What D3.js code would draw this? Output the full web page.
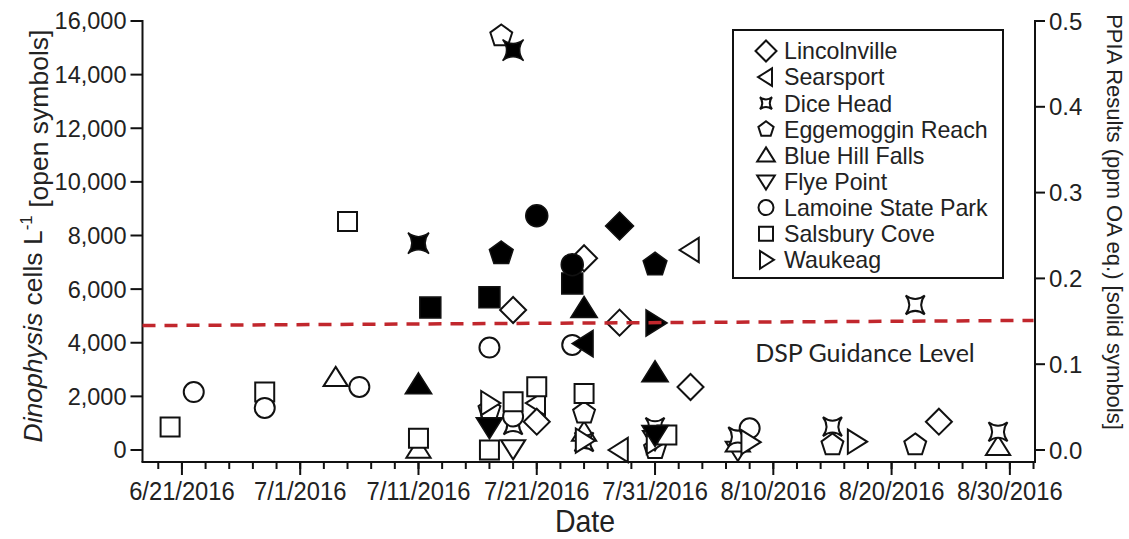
<!DOCTYPE html>
<html>
<head>
<meta charset="utf-8">
<script src="https://cdn.jsdelivr.net/npm/d3@7"></script>
<style>
  body { margin: 0; background: #fff; }
  svg text { font-family: "Liberation Sans", Arial, sans-serif; fill: #222; }
</style>
</head>
<body>
<svg id="chart" width="1129" height="539"></svg>
<script>
// sites, in legend order, with the symbol each one uses
var sites = ["Lincolnville", "Searsport", "Dice Head", "Eggemoggin Reach", "Blue Hill Falls",
  "Flye Point", "Lamoine State Park", "Salsbury Cove", "Waukeag"];
var shapes = ["diamond", "triLeft", "star4", "pentagon", "triUp", "triDown", "circle", "square", "triRight"];

// open symbols: Dinophysis cells per litre  [site, date, cells]
var cellData = [
  ["Salsbury Cove", "6/20/2016", 860],
  ["Lamoine State Park", "6/22/2016", 2160],
  ["Salsbury Cove", "6/28/2016", 2160],
  ["Lamoine State Park", "6/28/2016", 1570],
  ["Blue Hill Falls", "7/4/2016", 2690],
  ["Salsbury Cove", "7/5/2016", 8520],
  ["Lamoine State Park", "7/6/2016", 2350],
  ["Blue Hill Falls", "7/11/2016", 20],
  ["Salsbury Cove", "7/11/2016", 440],
  ["Eggemoggin Reach", "7/17/2016", 1500],
  ["Waukeag", "7/17/2016", 1750],
  ["Lamoine State Park", "7/17/2016", 3820],
  ["Salsbury Cove", "7/17/2016", 0],
  ["Eggemoggin Reach", "7/18/2016", 15440],
  ["Lincolnville", "7/19/2016", 5220],
  ["Dice Head", "7/19/2016", 930],
  ["Lamoine State Park", "7/19/2016", 1250],
  ["Salsbury Cove", "7/19/2016", 1800],
  ["Flye Point", "7/19/2016", 60],
  ["Searsport", "7/21/2016", 1750],
  ["Lincolnville", "7/21/2016", 1055],
  ["Salsbury Cove", "7/21/2016", 2360],
  ["Lamoine State Park", "7/24/2016", 3920],
  ["Lincolnville", "7/25/2016", 7150],
  ["Blue Hill Falls", "7/25/2016", 650],
  ["Dice Head", "7/25/2016", 300],
  ["Waukeag", "7/25/2016", 350],
  ["Eggemoggin Reach", "7/25/2016", 1370],
  ["Salsbury Cove", "7/25/2016", 2110],
  ["Lincolnville", "7/28/2016", 4750],
  ["Searsport", "7/28/2016", 0],
  ["Eggemoggin Reach", "7/31/2016", 50],
  ["Flye Point", "7/31/2016", 400],
  ["Waukeag", "7/31/2016", 300],
  ["Dice Head", "7/31/2016", 850],
  ["Salsbury Cove", "8/1/2016", 560],
  ["Searsport", "8/3/2016", 7460],
  ["Lincolnville", "8/3/2016", 2350],
  ["Flye Point", "8/7/2016", 0],
  ["Blue Hill Falls", "8/7/2016", 250],
  ["Dice Head", "8/7/2016", 500],
  ["Lamoine State Park", "8/8/2016", 810],
  ["Waukeag", "8/8/2016", 290],
  ["Eggemoggin Reach", "8/15/2016", 190],
  ["Dice Head", "8/15/2016", 870],
  ["Waukeag", "8/17/2016", 310],
  ["Eggemoggin Reach", "8/22/2016", 190],
  ["Dice Head", "8/22/2016", 5410],
  ["Lincolnville", "8/24/2016", 1055],
  ["Blue Hill Falls", "8/29/2016", 120],
  ["Dice Head", "8/29/2016", 680]
];

// solid symbols: PPIA toxin results (ppm OA eq.)  [site, date, ppm]
var ppiaData = [
  ["Dice Head", "7/11/2016", 0.241],
  ["Blue Hill Falls", "7/11/2016", 0.076],
  ["Salsbury Cove", "7/12/2016", 0.166],
  ["Salsbury Cove", "7/17/2016", 0.178],
  ["Flye Point", "7/17/2016", 0.027],
  ["Eggemoggin Reach", "7/18/2016", 0.229],
  ["Dice Head", "7/19/2016", 0.466],
  ["Lamoine State Park", "7/21/2016", 0.273],
  ["Salsbury Cove", "7/24/2016", 0.194],
  ["Lamoine State Park", "7/24/2016", 0.216],
  ["Blue Hill Falls", "7/25/2016", 0.165],
  ["Searsport", "7/25/2016", 0.124],
  ["Lincolnville", "7/28/2016", 0.261],
  ["Eggemoggin Reach", "7/31/2016", 0.216],
  ["Waukeag", "7/31/2016", 0.148],
  ["Blue Hill Falls", "7/31/2016", 0.090],
  ["Flye Point", "7/31/2016", 0.018]
];

// DSP guidance level line (drawn slightly tilted in the original)
var guideDates = ["6/17/2016", "9/1/2016"];
var guideValues = [0.145, 0.151];

var yLeftTicks = [0, 2000, 4000, 6000, 8000, 10000, 12000, 14000, 16000];
var yRightTicks = [0, 0.1, 0.2, 0.3, 0.4, 0.5];
var xTickLabels = ["6/21/2016", "7/1/2016", "7/11/2016", "7/21/2016", "7/31/2016", "8/10/2016", "8/20/2016", "8/30/2016"];

// ----------------------------------------------------------------------------

var parse = d3.timeParse("%m/%d/%Y");
var svg = d3.select("#chart");

var plotLeft = 142.5, plotRight = 1035, plotTop = 21, plotBottom = 462;

var x = d3.scaleTime()
  .domain([new Date(2016, 5, 17, 16), new Date(2016, 8, 1, 3)])
  .range([plotLeft, plotRight]);

var yCells = d3.scaleLinear().domain([-448, 16000]).range([plotBottom, plotTop]);
var yPpia = d3.scaleLinear().domain([-0.014, 0.5]).range([plotBottom, plotTop]);

// symbol outlines, r is half the width
function shapePath(name, r) {
  var p = d3.path();
  if (name == "diamond") {
    p.moveTo(0, -r); p.lineTo(r, 0); p.lineTo(0, r); p.lineTo(-r, 0); p.closePath();
  } else if (name == "square") {
    p.rect(-r, -r, 2 * r, 2 * r);
  } else if (name == "circle") {
    p.moveTo(r, 0);
    p.arc(0, 0, r, 0, 2 * Math.PI);
  } else if (name == "triUp") {
    p.moveTo(0, -r); p.lineTo(r * 1.1, r * 0.75); p.lineTo(-r * 1.1, r * 0.75); p.closePath();
  } else if (name == "triDown") {
    p.moveTo(0, r); p.lineTo(r * 1.1, -r * 0.75); p.lineTo(-r * 1.1, -r * 0.75); p.closePath();
  } else if (name == "triLeft") {
    p.moveTo(-r, 0); p.lineTo(r * 0.75, -r * 1.1); p.lineTo(r * 0.75, r * 1.1); p.closePath();
  } else if (name == "triRight") {
    p.moveTo(r, 0); p.lineTo(-r * 0.75, -r * 1.1); p.lineTo(-r * 0.75, r * 1.1); p.closePath();
  } else if (name == "pentagon") {
    for (var i = 0; i < 5; i++) {
      var a = -Math.PI / 2 + i * 2 * Math.PI / 5;
      if (i == 0) p.moveTo(r * Math.cos(a), r * Math.sin(a));
      else p.lineTo(r * Math.cos(a), r * Math.sin(a));
    }
    p.closePath();
  } else if (name == "star4") {
    var k = r * 0.25;
    p.moveTo(-r, -r);
    p.quadraticCurveTo(0, -k, r, -r);
    p.quadraticCurveTo(k, 0, r, r);
    p.quadraticCurveTo(0, k, -r, r);
    p.quadraticCurveTo(-k, 0, -r, -r);
    p.closePath();
  }
  return p.toString();
}

var plotSize = {diamond: 13, square: 9.5, circle: 10, triUp: 11, triDown: 11, triLeft: 11,
  triRight: 11, pentagon: 11.5, star4: 9.5};

function shapeOf(site) { return shapes[sites.indexOf(site)]; }

// axes ----------------------------------------------------------------------

var ink = "#111";

// left axis
var gl = svg.append("g");
gl.append("line").attr("x1", plotLeft).attr("x2", plotLeft).attr("y1", plotTop - 1).attr("y2", plotBottom)
  .attr("stroke", ink).attr("stroke-width", 2);
gl.selectAll("line.t").data(yLeftTicks).enter().append("line")
  .attr("x1", plotLeft - 12).attr("x2", plotLeft)
  .attr("y1", d => yCells(d)).attr("y2", d => yCells(d))
  .attr("stroke", ink).attr("stroke-width", 2);
gl.selectAll("text").data(yLeftTicks).enter().append("text")
  .attr("x", plotLeft - 16).attr("y", d => yCells(d)).attr("dy", "0.36em")
  .attr("text-anchor", "end").style("font-size", "23.5px")
  .text(d => d3.format(",")(d));

// right axis
var gr = svg.append("g");
gr.append("line").attr("x1", plotRight).attr("x2", plotRight).attr("y1", plotTop - 1).attr("y2", plotBottom)
  .attr("stroke", ink).attr("stroke-width", 2);
gr.selectAll("line.t").data(yRightTicks).enter().append("line")
  .attr("x1", plotRight).attr("x2", plotRight + 10)
  .attr("y1", d => yPpia(d)).attr("y2", d => yPpia(d))
  .attr("stroke", ink).attr("stroke-width", 2);
gr.selectAll("text").data(yRightTicks).enter().append("text")
  .attr("x", plotRight + 14).attr("y", d => yPpia(d)).attr("dy", "0.36em")
  .style("font-size", "24px")
  .text(d => d3.format(".1f")(d));

// bottom axis with minor ticks every two days
var gb = svg.append("g");
gb.append("line").attr("x1", plotLeft - 1).attr("x2", plotRight + 1).attr("y1", plotBottom).attr("y2", plotBottom)
  .attr("stroke", ink).attr("stroke-width", 2);
var minor = d3.timeDay.range(parse("6/19/2016"), parse("9/2/2016"), 2);
gb.selectAll("line.m").data(minor).enter().append("line")
  .attr("x1", d => x(d)).attr("x2", d => x(d))
  .attr("y1", plotBottom).attr("y2", plotBottom + 7)
  .attr("stroke", ink).attr("stroke-width", 2);
gb.selectAll("line.M").data(xTickLabels).enter().append("line")
  .attr("x1", d => x(parse(d))).attr("x2", d => x(parse(d)))
  .attr("y1", plotBottom).attr("y2", plotBottom + 13)
  .attr("stroke", ink).attr("stroke-width", 2);
gb.selectAll("text").data(xTickLabels).enter().append("text")
  .attr("transform", d => `translate(${x(parse(d))},${plotBottom + 38}) scale(0.95,1.05)`)
  .attr("text-anchor", "middle")
  .style("font-size", "25px")
  .text(d => d);

svg.append("text")
  .attr("transform", "translate(585,532) scale(0.95,1.05)")
  .attr("text-anchor", "middle")
  .style("font-size", "30px")
  .text("Date");

// axis titles
var lt = svg.append("text")
  .attr("transform", "translate(42,236) rotate(-90)")
  .attr("text-anchor", "middle")
  .style("font-size", "26.5px");
lt.append("tspan").style("font-style", "italic").text("Dinophysis");
lt.append("tspan").text(" cells L");
lt.append("tspan").attr("dy", "-0.6em").style("font-size", "17px").text("-1");
lt.append("tspan").attr("dy", "0.6em").text(" [open symbols]");

svg.append("text")
  .attr("transform", "translate(1107,222) rotate(90)")
  .attr("text-anchor", "middle")
  .style("font-size", "22px")
  .text("PPIA Results (ppm OA eq.) [solid symbols]");

// points --------------------------------------------------------------------

var gp = svg.append("g");
gp.selectAll("path.open").data(cellData).enter().append("path")
  .attr("d", d => shapePath(shapeOf(d[0]), plotSize[shapeOf(d[0])]))
  .attr("transform", d => `translate(${x(parse(d[1]))},${yCells(d[2])})`)
  .attr("fill", "#fff").attr("stroke", ink).attr("stroke-width", 2);

gp.selectAll("path.solid").data(ppiaData).enter().append("path")
  .attr("d", d => shapePath(shapeOf(d[0]), plotSize[shapeOf(d[0])] + 1))
  .attr("transform", d => `translate(${x(parse(d[1]))},${yPpia(d[2])})`)
  .attr("fill", "#000").attr("stroke", ink).attr("stroke-width", 1.5);

// DSP guidance line
svg.append("path")
  .datum(guideDates.map((d, i) => [parse(d), guideValues[i]]))
  .attr("d", d3.line().x(d => Math.max(plotLeft, Math.min(plotRight, x(d[0])))).y(d => yPpia(d[1])))
  .attr("fill", "none").attr("stroke", "#c1272d").attr("stroke-width", 3.5)
  .attr("stroke-dasharray", "13,9");

svg.append("text")
  .attr("x", 865).attr("y", 362)
  .attr("text-anchor", "middle")
  .style("font-family", "Lato, 'Open Sans', sans-serif")
  .style("font-size", "25px")
  .text("DSP Guidance Level");

// legend --------------------------------------------------------------------

var leg = svg.append("g");
leg.append("rect").attr("x", 733).attr("y", 30).attr("width", 270).attr("height", 248)
  .attr("fill", "#fff").attr("stroke", ink).attr("stroke-width", 2);

var legSize = {diamond: 10.5, square: 7, circle: 7.5, triUp: 8, triDown: 8, triLeft: 8,
  triRight: 8, pentagon: 8, star4: 6};

leg.selectAll("path").data(sites).enter().append("path")
  .attr("d", (d, i) => shapePath(shapes[i], legSize[shapes[i]]))
  .attr("transform", (d, i) => `translate(766,${51 + i * 26.1})`)
  .attr("fill", "#fff").attr("stroke", ink).attr("stroke-width", 2);

leg.selectAll("text").data(sites).enter().append("text")
  .attr("x", 784).attr("y", (d, i) => 51 + i * 26.1).attr("dy", "0.36em")
  .style("font-size", "23.2px")
  .text(d => d);
</script>
</body>
</html>
